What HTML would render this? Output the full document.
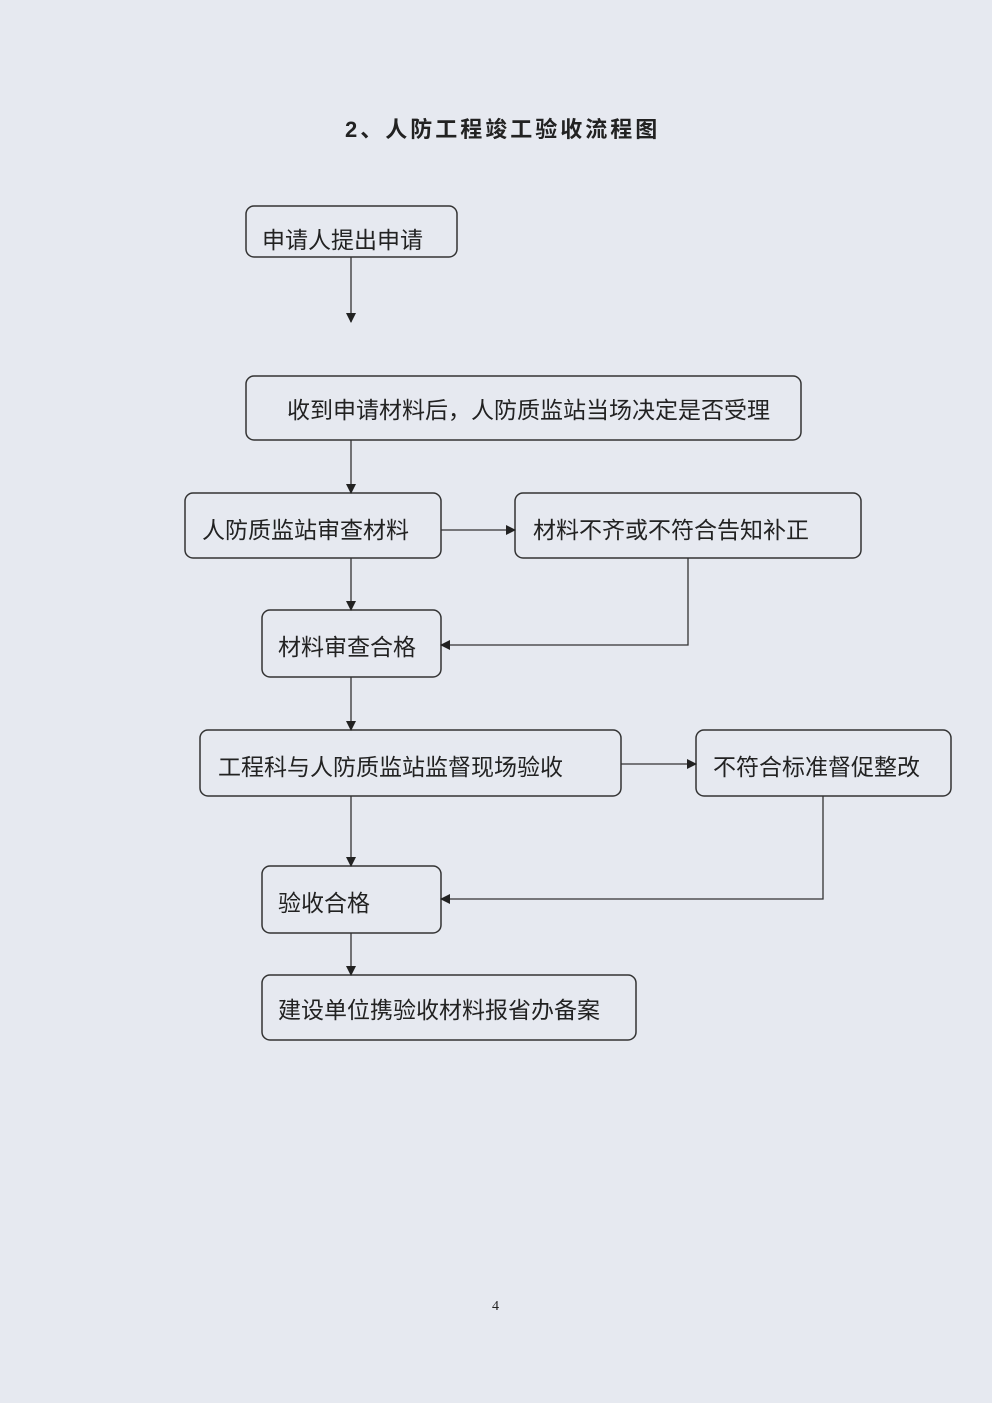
<!DOCTYPE html>
<html><head><meta charset="utf-8"><style>
html,body{margin:0;padding:0;background:#e6e9f0;}
svg{display:block}
text{font-family:"Liberation Sans","Noto Sans CJK SC",sans-serif;fill:#222;}
</style></head><body>
<svg width="992" height="1403" viewBox="0 0 992 1403" xmlns="http://www.w3.org/2000/svg">
<defs><marker id="a" markerWidth="10" markerHeight="10" refX="9" refY="5" orient="auto" markerUnits="userSpaceOnUse"><path d="M0,0 L10,5 L0,10 z" fill="#222"/></marker></defs>
<text x="345" y="137" font-size="22" font-weight="bold" letter-spacing="3" style="font-family:'Liberation Sans','Noto Sans CJK SC',sans-serif">2、人防工程竣工验收流程图</text>
<g fill="none" stroke="#333" stroke-width="1.5">
<rect x="246" y="206" width="211" height="51" rx="8"/>
<rect x="246" y="376" width="555" height="64" rx="8"/>
<rect x="185" y="493" width="256" height="65" rx="8"/>
<rect x="515" y="493" width="346" height="65" rx="8"/>
<rect x="262" y="610" width="179" height="67" rx="8"/>
<rect x="200" y="730" width="421" height="66" rx="8"/>
<rect x="696" y="730" width="255" height="66" rx="8"/>
<rect x="262" y="866" width="179" height="67" rx="8"/>
<rect x="262" y="975" width="374" height="65" rx="8"/>
</g>
<g fill="none" stroke="#333" stroke-width="1.3" marker-end="url(#a)">
<line x1="351" y1="257" x2="351" y2="322"/>
<line x1="351" y1="440" x2="351" y2="493"/>
<line x1="441" y1="530" x2="515" y2="530"/>
<line x1="351" y1="558" x2="351" y2="610"/>
<polyline points="688,558 688,645 441,645"/>
<line x1="351" y1="677" x2="351" y2="730"/>
<line x1="621" y1="764" x2="696" y2="764"/>
<line x1="351" y1="796" x2="351" y2="866"/>
<polyline points="823,796 823,899 441,899"/>
<line x1="351" y1="933" x2="351" y2="975"/>
</g>
<g font-size="23">
<text x="262" y="248">申请人提出申请</text>
<text x="287" y="418">收到申请材料后，人防质监站当场决定是否受理</text>
<text x="202" y="538">人防质监站审查材料</text>
<text x="533" y="538">材料不齐或不符合告知补正</text>
<text x="278" y="655">材料审查合格</text>
<text x="218" y="775">工程科与人防质监站监督现场验收</text>
<text x="713" y="775">不符合标准督促整改</text>
<text x="278" y="911">验收合格</text>
<text x="278" y="1018">建设单位携验收材料报省办备案</text>
</g>
<text x="492" y="1310" font-size="14" style="font-family:'Liberation Serif',serif">4</text>
</svg>
</body></html>
